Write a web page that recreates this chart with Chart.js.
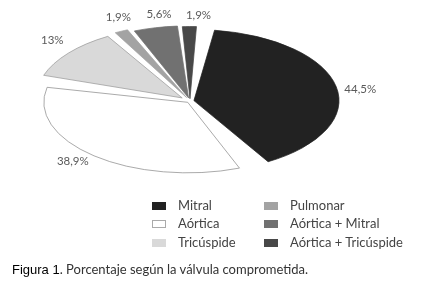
<!DOCTYPE html>
<html>
<head>
<meta charset="utf-8">
<script src="https://cdn.jsdelivr.net/npm/chart.js@4"></script>
<style>
  body { margin: 0; background: #fff; }
  #wrap { position: relative; width: 421px; height: 292px; overflow: hidden; }
  #pie { position: absolute; left: 0; top: 0; }
  .legend { position: absolute; left: 0; top: 0; font-family: Lato, sans-serif; font-size: 13px; color: #444; }
  .item { position: absolute; white-space: nowrap; }
  .box { position: absolute; left: 0; top: 0; width: 14px; height: 8px; box-sizing: border-box; }
  .item span { position: absolute; left: 26px; top: -5px; }
  .caption { position: absolute; left: 12px; top: 261px; font-family: Lato, sans-serif; font-size: 13px; color: #333; white-space: nowrap; }
  .caption b { font-family: "Liberation Sans", sans-serif; font-weight: normal; color: #000; }
</style>
</head>
<body>
<div id="wrap">
  <canvas id="pie" width="421" height="292"></canvas>
  <div class="legend" id="legend"></div>
  <div class="caption"><b>Figura 1</b>. Porcentaje según la válvula comprometida.</div>
</div>
<script>
const labels = ['Mitral', 'Aórtica', 'Tricúspide', 'Pulmonar', 'Aórtica + Mitral', 'Aórtica + Tricúspide'];
const values = [44.5, 38.9, 13, 1.9, 5.6, 1.9];
const valueLabels = ['44,5%', '38,9%', '13%', '1,9%', '5,6%', '1,9%'];

const colors = ['#222222', '#ffffff', '#d9d9d9', '#a3a3a3', '#717171', '#484848'];
const borders = ['#222222', '#8c8c8c', '#9a9a9a', '#a3a3a3', '#717171', '#484848'];
const explode = [16, 14, 40, 32, 25, 19];

const TILT = 0.49;      // vertical squash to fake the 3D tilt
const CENTER_Y = 101;   // where the pie centre ends up
const LABEL_PAD = 19;
const LABEL_TURN = 3 * Math.PI / 180;   // labels sit a little clockwise of the slice middle

// squash the pie vertically and print the value labels outside each slice
const tiltPlugin = {
  id: 'tilt',
  beforeDatasetsDraw(chart) {
    const { ctx, chartArea } = chart;
    const cx = (chartArea.left + chartArea.right) / 2;
    const cy = (chartArea.top + chartArea.bottom) / 2;
    ctx.save();
    ctx.translate(cx, CENTER_Y);
    ctx.scale(1, TILT);
    ctx.translate(-cx, -cy);
  },
  afterDatasetsDraw(chart) {
    const { ctx } = chart;
    ctx.restore();
    const arcs = chart.getDatasetMeta(0).data;
    ctx.save();
    ctx.font = '11.5px Lato, sans-serif';
    ctx.fillStyle = '#5a5a5a';
    ctx.textAlign = 'center';
    ctx.textBaseline = 'middle';
    arcs.forEach((arc, i) => {
      const o = arc.options;
      const mid = (arc.startAngle + arc.endAngle) / 2;
      const circ = arc.endAngle - arc.startAngle;
      // same shift the arc element applies when it is offset
      const off = o.offset / 4;
      const shift = off * (2 - Math.sin(Math.min(Math.PI, circ)));
      const r = arc.outerRadius + o.spacing / 2 + off + shift + LABEL_PAD;
      const x = arc.x + Math.cos(mid + LABEL_TURN) * r;
      const y = CENTER_Y + Math.sin(mid + LABEL_TURN) * r * TILT;
      ctx.fillText(valueLabels[i], x, y);
    });
    ctx.restore();
  }
};

new Chart(document.getElementById('pie'), {
  type: 'pie',
  data: {
    labels: labels,
    datasets: [{
      data: values,
      backgroundColor: colors,
      borderColor: borders,
      borderWidth: 1,
      offset: explode,
      spacing: 10,
      radius: 138,
      clip: false
    }]
  },
  options: {
    responsive: false,
    animation: false,
    rotation: 3,
    layout: { padding: { left: 0, right: 41, top: 0, bottom: 0 } },
    plugins: {
      legend: { display: false },
      tooltip: { enabled: false }
    },
    events: []
  },
  plugins: [tiltPlugin]
});

// two-column legend: Mitral/Aórtica/Tricúspide left, the rest right
const legend = document.getElementById('legend');
labels.forEach((name, i) => {
  const col = Math.floor(i / 3);
  const row = i % 3;
  const item = document.createElement('div');
  item.className = 'item';
  item.style.left = (152 + col * 112) + 'px';
  item.style.top = (202 + row * 18.3) + 'px';
  const box = document.createElement('div');
  box.className = 'box';
  box.style.background = colors[i];
  box.style.border = '1px solid ' + (i === 1 ? '#aaa' : colors[i]);
  const text = document.createElement('span');
  text.textContent = name;
  item.appendChild(box);
  item.appendChild(text);
  legend.appendChild(item);
});
</script>
</body>
</html>
